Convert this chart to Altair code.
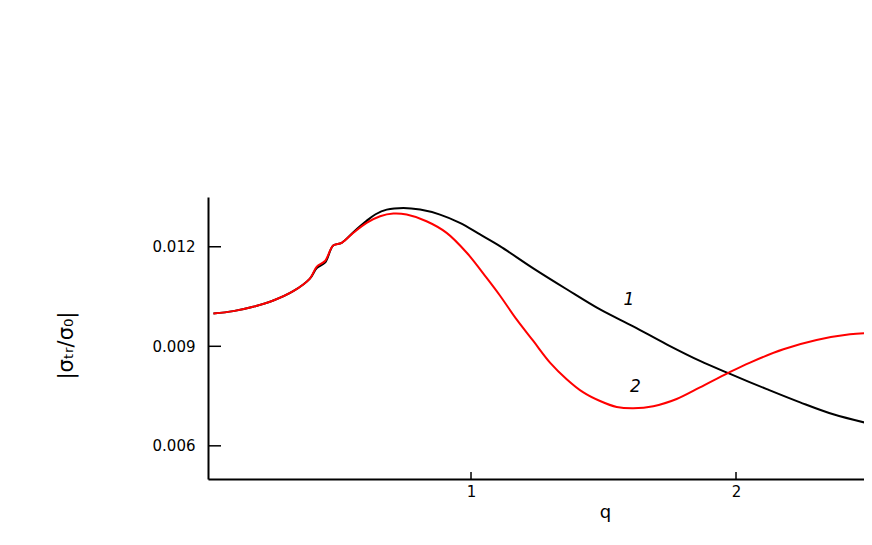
import altair as alt
import pandas as pd

# curve 1 (black)
q1 = [0.028, 0.103, 0.178, 0.254, 0.329, 0.392, 0.418, 0.449, 0.480, 0.512, 0.556, 0.606, 0.640,
      0.682, 0.745, 0.808, 0.883, 0.958, 1.034, 1.109, 1.235, 1.361, 1.487, 1.612, 1.738, 1.864,
      1.971, 2.116, 2.242, 2.367, 2.513]
v1 = [0.00999, 0.01006, 0.01019, 0.01038, 0.01066, 0.01104, 0.01136, 0.01152, 0.01204, 0.01212,
      0.01244, 0.01278, 0.01298, 0.01312, 0.01317, 0.01312, 0.01297, 0.01272, 0.01237, 0.01202,
      0.01135, 0.01072, 0.01011, 0.00960, 0.00906, 0.00856, 0.00819, 0.00771, 0.00731, 0.00695,
      0.00665]
# curve 2 (red)
q2 = [0.028, 0.103, 0.178, 0.254, 0.329, 0.392, 0.418, 0.449, 0.480, 0.512, 0.556, 0.606, 0.657,
      0.707, 0.757, 0.832, 0.908, 0.984, 1.059, 1.109, 1.172, 1.235, 1.298, 1.361, 1.424, 1.487,
      1.550, 1.612, 1.688, 1.776, 1.864, 1.971, 2.053, 2.179, 2.304, 2.430, 2.513]
v2 = [0.00999, 0.01006, 0.01019, 0.01038, 0.01066, 0.01104, 0.01140, 0.01157, 0.01204, 0.01212,
      0.01242, 0.01272, 0.01292, 0.01300, 0.01297, 0.01277, 0.01242, 0.01182, 0.01106, 0.01053,
      0.00981, 0.00916, 0.00851, 0.00801, 0.00761, 0.00735, 0.00717, 0.00713, 0.00719, 0.00741,
      0.00776, 0.00820, 0.00851, 0.00891, 0.00919, 0.00936, 0.00941]

x_ticks = [1, 2]
y_ticks = [0.006, 0.009, 0.012]

label_text = ["1", "2"]
label_q = [1.596, 1.620]
label_v = [0.01041, 0.00777]

df = pd.concat([
    pd.DataFrame({"q": q1, "v": v1, "curve": "1"}),
    pd.DataFrame({"q": q2, "v": v2, "curve": "2"}),
])
xt = pd.DataFrame({"q": x_ticks})
yt = pd.DataFrame({"v": y_ticks})
lab = pd.DataFrame({"t": label_text, "q": label_q, "v": label_v})

xs = alt.Scale(domain=[0.0075, 2.483], nice=False, zero=False)
ys = alt.Scale(domain=[0.005, 0.0135], nice=False, zero=False)

FONT = "DejaVu Sans"

lines = alt.Chart(df).mark_line(strokeWidth=2, interpolate="catmull-rom", clip=True).encode(
    x=alt.X("q:Q", scale=xs, axis=alt.Axis(
        values=x_ticks, format="d", tickSize=0, grid=False, labelPadding=5,
        labelFont=FONT, labelFontSize=15, labelColor="black",
        domainColor="black", domainWidth=2,
        title="q", titleFont=FONT, titleFontSize=18, titleFontWeight="normal",
        titleX=397, titleY=24, titleColor="black")),
    y=alt.Y("v:Q", scale=ys, axis=alt.Axis(
        values=y_ticks, format=".3f", tickSize=0, grid=False, labelPadding=13,
        labelFont=FONT, labelFontSize=15, labelColor="black",
        domainColor="black", domainWidth=2,
        title="|σₜᵣ/σ₀|", titleFont=FONT, titleFontSize=21, titleFontWeight="normal",
        titleAngle=270, titleX=-132, titleY=148, titleColor="black")),
    color=alt.Color("curve:N", scale=alt.Scale(domain=["1", "2"], range=["#000000", "#ff0000"]),
                    legend=None),
    detail="curve:N",
)

ytick_marks = alt.Chart(yt).mark_rule(color="black", strokeWidth=1.5).encode(
    y=alt.Y("v:Q", scale=ys), x=alt.value(0), x2=alt.value(13))
xtick_marks = alt.Chart(xt).mark_rule(color="black", strokeWidth=1.5).encode(
    x=alt.X("q:Q", scale=xs), y=alt.value(282), y2=alt.value(275))

labels = alt.Chart(lab).mark_text(font=FONT, fontSize=17, fontStyle="italic", color="black").encode(
    x=alt.X("q:Q", scale=xs), y=alt.Y("v:Q", scale=ys), text="t:N")

chart = alt.layer(lines, ytick_marks, xtick_marks, labels).properties(
    width=656, height=282,
    background="white",
    autosize=alt.AutoSizeParams(type="none"),
    padding={"left": 200, "top": 189, "right": 0, "bottom": 48},
).configure_view(stroke=None)

chart.save("out.html", embed_options={"renderer": "svg", "actions": False})
